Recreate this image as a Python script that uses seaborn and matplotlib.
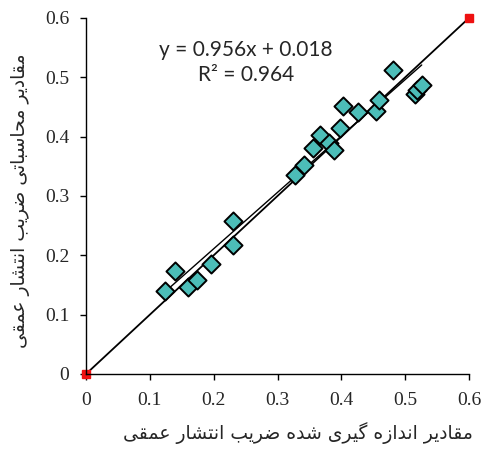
import matplotlib
matplotlib.use('Agg')
import matplotlib.pyplot as plt
import seaborn as sns
import pandas as pd

# مقادیر اندازه گیری شده (x) و محاسباتی (y)
measured = [0.124, 0.139, 0.159, 0.174, 0.195, 0.231, 0.231, 0.328, 0.341, 0.356,
            0.367, 0.380, 0.388, 0.398, 0.402, 0.426, 0.454, 0.459, 0.481, 0.515,
            0.519, 0.526]
computed = [0.139, 0.173, 0.146, 0.159, 0.185, 0.218, 0.257, 0.336, 0.352, 0.381,
            0.403, 0.389, 0.378, 0.414, 0.451, 0.441, 0.443, 0.462, 0.512, 0.472,
            0.479, 0.487]
one_to_one = [0.0, 0.6]
ticks = [0, 0.1, 0.2, 0.3, 0.4, 0.5, 0.6]
tick_labels = ['0', '0.1', '0.2', '0.3', '0.4', '0.5', '0.6']
equation = 'y = 0.956x + 0.018\nR² = 0.964'
xlabel = 'مقادیر اندازه گیری شده ضریب انتشار عمقی'
ylabel = 'مقادیر محاسباتی ضریب انتشار عمقی'

# matplotlib does no Arabic shaping, so pick presentation forms by hand
FORMS = {  # isolated, final, initial, medial
    'ا': ('\uFE8D', '\uFE8E', None, None),
    'د': ('\uFEA9', '\uFEAA', None, None),
    'ر': ('\uFEAD', '\uFEAE', None, None),
    'ز': ('\uFEAF', '\uFEB0', None, None),
    'ب': ('\uFE8F', '\uFE90', '\uFE91', '\uFE92'),
    'ت': ('\uFE95', '\uFE96', '\uFE97', '\uFE98'),
    'ح': ('\uFEA1', '\uFEA2', '\uFEA3', '\uFEA4'),
    'س': ('\uFEB1', '\uFEB2', '\uFEB3', '\uFEB4'),
    'ش': ('\uFEB5', '\uFEB6', '\uFEB7', '\uFEB8'),
    'ض': ('\uFEBD', '\uFEBE', '\uFEBF', '\uFEC0'),
    'ع': ('\uFEC9', '\uFECA', '\uFECB', '\uFECC'),
    'ق': ('\uFED5', '\uFED6', '\uFED7', '\uFED8'),
    'م': ('\uFEE1', '\uFEE2', '\uFEE3', '\uFEE4'),
    'ن': ('\uFEE5', '\uFEE6', '\uFEE7', '\uFEE8'),
    'ه': ('\uFEE9', '\uFEEA', '\uFEEB', '\uFEEC'),
    'ی': ('\uFBFC', '\uFBFD', '\uFBFE', '\uFBFF'),
    'گ': ('\uFB92', '\uFB93', '\uFB94', '\uFB95'),
}


def shape(text):
    out = []
    for i, ch in enumerate(text):
        if ch not in FORMS:
            out.append(ch)
            continue
        prev = text[i - 1] if i > 0 else ' '
        nxt = text[i + 1] if i + 1 < len(text) else ' '
        joins_prev = prev in FORMS and FORMS[prev][2] is not None
        joins_next = FORMS[ch][2] is not None and nxt in FORMS
        iso, fin, ini, med = FORMS[ch]
        if joins_prev and joins_next:
            out.append(med)
        elif joins_prev:
            out.append(fin)
        elif joins_next:
            out.append(ini)
        else:
            out.append(iso)
    return ''.join(out)[::-1]


df = pd.DataFrame({'measured': measured, 'computed': computed})

sns.set_style('ticks')
fig = plt.figure(figsize=(4.89, 4.5), dpi=100)
ax = fig.add_axes([0.176, 0.169, 0.783, 0.791])

ax.plot(one_to_one, one_to_one, color='black', lw=1.3, marker='s', ms=6,
        mfc='#ee1111', mec='#ee1111', clip_on=False, zorder=2)
sns.regplot(data=df, x='measured', y='computed', scatter=False, ci=None,
            line_kws={'color': 'black', 'lw': 1.0}, ax=ax)
sns.scatterplot(data=df, x='measured', y='computed', marker='D', s=85,
                color='#4cbdb8', edgecolor='black', linewidth=1.4, zorder=3, ax=ax)

ax.set_xlim(0, 0.6)
ax.set_ylim(0, 0.6)
ax.set_xticks(ticks)
ax.set_yticks(ticks)
ax.set_xticklabels(tick_labels, family='Liberation Serif', fontsize=14)
ax.set_yticklabels(tick_labels, family='Liberation Serif', fontsize=14)
ax.tick_params(direction='out', length=4, width=1, color='black')
ax.tick_params(axis='x', pad=9)
ax.tick_params(axis='y', pad=8)
sns.despine(ax=ax)
for s in ['left', 'bottom']:
    ax.spines[s].set_color('black')
    ax.spines[s].set_linewidth(1)

ax.set_xlabel(shape(xlabel), family='DejaVu Sans', fontsize=13.5, va='center')
ax.set_ylabel(shape(ylabel), family='DejaVu Sans', fontsize=13.5, va='center')
ax.xaxis.set_label_coords(0.553, -0.165)
ax.yaxis.set_label_coords(-0.172, 0.486)

ax.text(0.251, 0.525, equation, family='Lato', fontsize=15, ha='center', va='center',
        linespacing=1.3)

fig.savefig('out.png', dpi=100)
